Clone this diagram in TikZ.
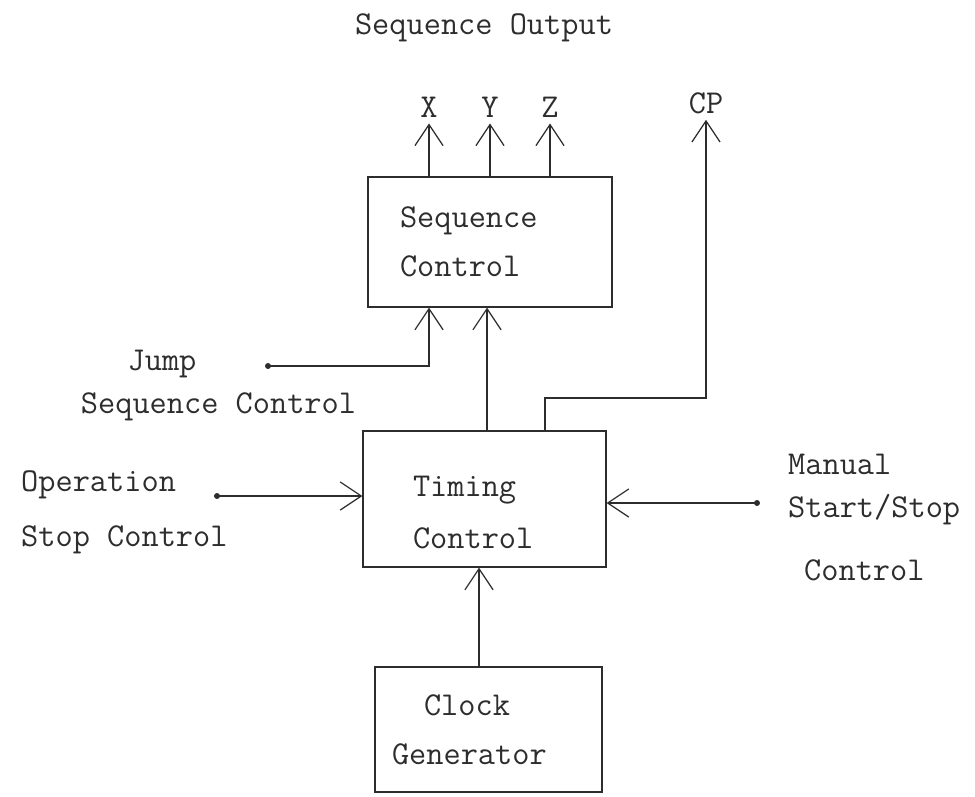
\documentclass[tikz,border=0pt]{standalone}
\usepackage{xcolor}
\usepackage{tikz}
\usetikzlibrary{arrows.meta,calc}
\definecolor{ink}{RGB}{45, 45, 45}

\begin{document}
\begin{tikzpicture}[
  every node/.style={ink,font=\fontsize{19}{28}\selectfont\ttfamily},
  box/.style={draw=ink,line width=0.7pt,align=left},
  arr/.style={ink,line width=0.7pt,-{Straight Barb[length=12pt,width=16pt]}},
  dotc/.style={ink,fill=ink}]
\useasboundingbox (0,0) rectangle (19.5,-15.92);
% blocks
\node[box,inner xsep=0.64cm,text width=3.6cm,minimum height=2.6cm] (seq) at (9.80,-4.84) {Sequence\\Control};
\node[box,inner xsep=1.0cm,text width=2.86cm,minimum height=2.72cm,text height=0.95cm,font=\fontsize{19}{30}\selectfont\ttfamily] (tim) at (9.69,-9.98) {Timing\\Control};
\node[box,inner xsep=0.34cm,text width=3.86cm,minimum height=2.5cm] (clk) at (9.77,-14.59) {\hspace*{0.64cm}Clock\\Generator};
% outputs
\node (title) at (9.68,-0.56) {Sequence Output};
\node (X) at (8.58,-2.14) {X};
\node (Y) at (9.80,-2.14) {Y};
\node (Z) at (11.00,-2.14) {Z};
\node (CP) at (14.12,-2.06) {CP};
\draw[arr] (seq.north -| X) -- (X.south);
\draw[arr] (seq.north -| Y) -- (Y.south);
\draw[arr] (seq.north -| Z) -- (Z.south);
\coordinate (cpk) at (10.90,-7.96);
\draw[arr] (tim.north -| cpk) -- (cpk) -| (CP.south);
\draw[arr] ([xshift=0.05cm]tim.north) -- ([xshift=0.05cm]tim.north |- seq.south);
% inputs
\coordinate (jdot) at (5.36,-7.32);
\coordinate (odot) at (4.34,-9.92);
\coordinate (mdot) at (15.14,-10.06);
\fill[dotc] (jdot) circle (0.06);
\fill[dotc] (odot) circle (0.06);
\fill[dotc] (mdot) circle (0.06);
\draw[arr] (jdot) -| (seq.south -| X);
\draw[arr] (odot) -- (odot -| tim.west);
\draw[arr] (mdot) -- (mdot -| tim.east);
\draw[arr] ([xshift=-0.19cm]clk.north) -- ([xshift=-0.19cm]clk.north |- tim.south);
% labels
\node (jump) at (3.24,-7.28) {Jump};
\node (jseq) at (4.37,-8.14) {Sequence Control};
\node[anchor=west] (oper) at (0.30,-9.70) {Operation};
\node[anchor=west] (ostop) at (0.30,-10.80) {Stop Control};
\node[anchor=west] (man) at (15.64,-9.28) {Manual};
\node[anchor=west] (mss) at (15.64,-10.20) {Start/Stop};
\node[anchor=west] (mctl) at (15.96,-11.40) {Control};
\end{tikzpicture}
\end{document}
